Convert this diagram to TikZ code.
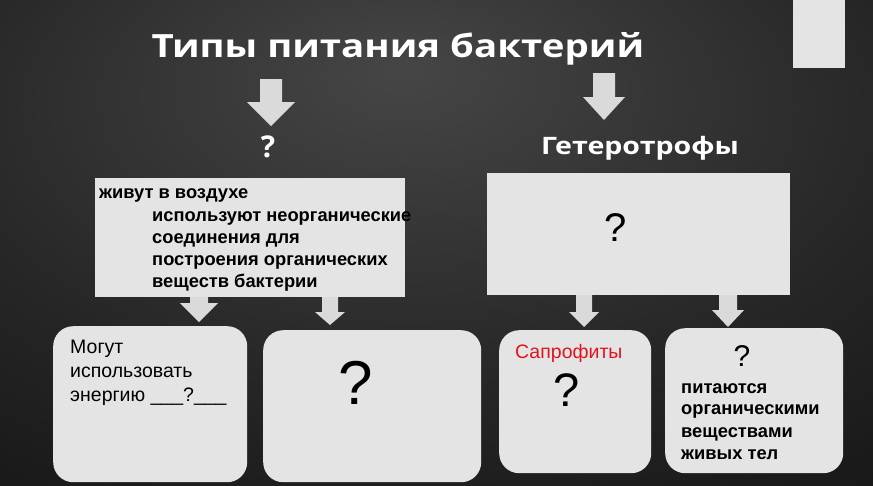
\documentclass[tikz,border=0pt]{standalone}
\usepackage{fontspec}
\setmainfont{Liberation Sans}
\newfontfamily\titlefont{Open Sans}
\usetikzlibrary{calc}
\definecolor{boxfill}{RGB}{228,228,228}
\definecolor{arrfill}{RGB}{218,218,218}
\definecolor{bgA}{RGB}{70,70,70}
\definecolor{bgB}{RGB}{38,38,38}
\definecolor{bgC}{RGB}{8,8,8}
\definecolor{sapred}{RGB}{225,20,30}
\pgfdeclareradialshading{bgshade}{\pgfpoint{-2bp}{18bp}}{color(0bp)=(bgA); color(28bp)=(bgB); color(62bp)=(bgC); color(100bp)=(bgC)}
\newcommand\blkarr[5]{\fill[arrfill] let \p1=(#1), \p2=(#2) in
  (\x1-#3pt,\y1) -- (\x1+#3pt,\y1) -- (\x1+#3pt,\y2+#5pt) -- (\x1+#4pt,\y2+#5pt)
  -- (\x1,\y2) -- (\x1-#4pt,\y2+#5pt) -- (\x1-#3pt,\y2+#5pt) -- cycle;}
\begin{document}
\begin{tikzpicture}[x=1pt,y=-1pt,
  sqbox/.style={fill=boxfill, draw=none, anchor=north west, inner sep=0pt},
  rbox/.style={fill=boxfill, draw=none, anchor=north west, inner sep=0pt, rounded corners=20pt},
  txt/.style={anchor=base west, inner sep=0pt, text=black},
  txtA/.style={txt, font=\bfseries\fontsize{18.3}{22}\selectfont},
  txtB/.style={txt, font=\fontsize{19.5}{24}\selectfont},
  qm/.style={anchor=center, inner sep=0pt, text=black}]
\shade[shading=bgshade] (0,0) rectangle (873,485);
\useasboundingbox (0,0) rectangle (873,485);
% top right tab
\fill[boxfill] (793,0) rectangle (845,68);
% title and headings
\node[anchor=base, text=white, inner sep=0pt, font=\titlefont\bfseries\fontsize{32}{36}\selectfont] (title) at (398,57) {\scalebox{1.2}[1]{Типы питания бактерий}};
\node[anchor=base, text=white, inner sep=0pt, font=\titlefont\bfseries\fontsize{30}{34}\selectfont] (auto) at (268,157) {?};
\node[anchor=base, text=white, inner sep=0pt, font=\titlefont\bfseries\fontsize{24}{28}\selectfont] (hetero) at (640,154) {\scalebox{1.19}[1]{Гетеротрофы}};
% boxes
\node[sqbox, minimum width=310pt, minimum height=119pt] (A) at (95,178) {};
\node[sqbox, minimum width=303pt, minimum height=122pt] (C) at (487,173) {};
\node[rbox, minimum width=194pt, minimum height=156pt] (B1) at (53,326) {};
\node[rbox, minimum width=218pt, minimum height=152pt] (B2) at (263,330) {};
\node[rbox, minimum width=152pt, minimum height=143pt] (D1) at (499,330) {};
\node[rbox, minimum width=178pt, minimum height=145pt] (D2) at (665,328) {};
% arrows
\coordinate (t1s) at (271,79);  \coordinate (t1e) at (271,126);
\coordinate (t2s) at (604,73);  \coordinate (t2e) at (604,120);
\coordinate (a1s) at (199,297); \coordinate (a1e) at (199,322);
\coordinate (a2s) at (330,297); \coordinate (a2e) at (330,325);
\coordinate (c1s) at (584,295); \coordinate (c1e) at (584,327);
\coordinate (c2s) at (728,295); \coordinate (c2e) at (728,327);
\blkarr{t1s}{t1e}{11}{24}{24}
\blkarr{t2s}{t2e}{11}{21}{23}
\blkarr{a1s}{a1e}{9}{19}{19}
\blkarr{a2s}{a2e}{8}{15}{13}
\blkarr{c1s}{c1e}{8}{15}{15}
\blkarr{c2s}{c2e}{9}{16}{17}
% text in A
\node[txtA] (a1) at (99,198) {живут в воздухе};
\node[txtA] (a2) at (152,221) {используют неорганические};
\node[txtA] (a3) at (152,243) {соединения для};
\node[txtA] (a4) at (152,265) {построения органических};
\node[txtA] (a5) at (152,287) {веществ бактерии};
% text in B1
\node[txtB] (b1) at (70,353) {Могут};
\node[txtB] (b2) at (70,377) {использовать};
\node[txtB] (b3) at (70,401) {энергию \_\_\_?\_\_\_};
% B2
\node[qm, font=\fontsize{62}{66}\selectfont] (q2) at (356,383) {?};
% C
\node[qm, font=\fontsize{40}{44}\selectfont] (qc) at (616,228) {?};
% D1
\node[txtB, text=sapred] (sap) at (515,358) {Сапрофиты};
\node[qm, font=\fontsize{47}{50}\selectfont] (qd1) at (567,390) {?};
% D2
\node[qm, font=\fontsize{30}{34}\selectfont] (qd2) at (742,356) {?};
\node[txtA] (d1) at (681,393) {питаются};
\node[txtA] (d2) at (681,414) {органическими};
\node[txtA] (d3) at (681,437) {веществами};
\node[txtA] (d4) at (681,459) {живых тел};
\end{tikzpicture}
\end{document}
